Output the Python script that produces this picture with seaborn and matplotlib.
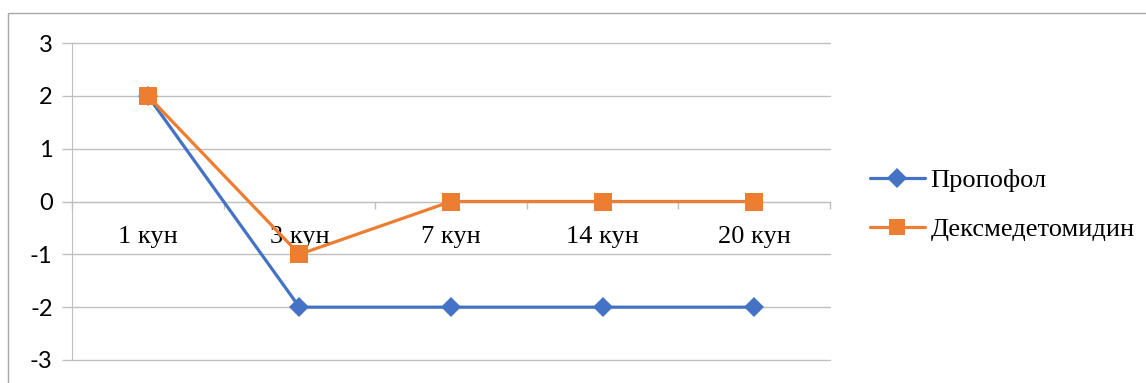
"""
Recreation of the Пропофол / Дексмедетомидин line chart
"""
import pandas as pd
import matplotlib.pyplot as plt
import matplotlib.patches as mpatches
import seaborn as sns

# data
days = ['1 кун', '3 кун', '7 кун', '14 кун', '20 кун']
propofol = [2, -2, -2, -2, -2]
dexmed = [2, -1, 0, 0, 0]
series_names = ['Пропофол', 'Дексмедетомидин']
y_ticks = [-3, -2, -1, 0, 1, 2, 3]

colors = {'Пропофол': '#4472C4', 'Дексмедетомидин': '#ED7D31'}
grid_color = '#BFBFBF'

df = pd.DataFrame({
    'day': days * 2,
    'pos': list(range(len(days))) * 2,
    'value': propofol + dexmed,
    'series': [series_names[0]] * len(days) + [series_names[1]] * len(days),
})

sns.set_style('white')
plt.rcParams['font.family'] = ['Liberation Serif', 'DejaVu Serif']
plt.rcParams['text.color'] = 'black'
plt.rcParams['xtick.labelcolor'] = 'black'
plt.rcParams['ytick.labelcolor'] = 'black'

W, H = 1146, 383
fig = plt.figure(figsize=(W / 100, H / 100), dpi=100)
ax = fig.add_axes([72 / W, 1 - 360 / H, (830 - 72) / W, (360 - 43) / H])

# outer chart border (cut off on right and bottom)
fig.patches.append(mpatches.Rectangle((8 / W, -0.1), 1.2, 1 - 13 / H + 0.1,
                                      transform=fig.transFigure, fill=False,
                                      edgecolor='#A6A6A6', lw=1.0))

sns.lineplot(data=df, x='pos', y='value', hue='series', style='series',
             hue_order=series_names, palette=colors,
             markers={'Пропофол': 'D', 'Дексмедетомидин': 's'},
             dashes=False, lw=2.3, markeredgewidth=0, ax=ax, zorder=3)
marker_sizes = {'D': 10, 's': 12.5}
for line in ax.get_lines():
    if line.get_marker() in marker_sizes:
        line.set_markersize(marker_sizes[line.get_marker()])

ax.set_xlim(-0.5, len(days) - 0.5)
ax.set_ylim(-3, 3)
ax.set_yticks(y_ticks)
ax.set_yticklabels([str(t) for t in y_ticks], family=['Lato', 'DejaVu Sans'],
                   fontsize=17)
ax.tick_params(axis='y', length=7, width=1, color=grid_color, pad=7,
               direction='out', left=True)

# horizontal gridlines
for t in y_ticks:
    ax.axhline(t, color=grid_color, lw=1.0, zorder=1, clip_on=False)

# category axis at y=0
for s in ['top', 'right']:
    ax.spines[s].set_visible(False)
ax.spines['left'].set_color(grid_color)
ax.spines['bottom'].set_position(('data', 0))
ax.spines['bottom'].set_color(grid_color)
ax.set_xticks([i - 0.5 for i in range(len(days) + 1)])
ax.set_xticklabels([])
ax.tick_params(axis='x', which='major', length=5, width=1, color=grid_color,
               direction='out', bottom=True)
ax.set_xticks(range(len(days)), minor=True)
ax.set_xticklabels(days, minor=True, fontsize=19)
ax.tick_params(axis='x', which='minor', length=0, pad=18)

ax.set_xlabel('')
ax.set_ylabel('')

leg = ax.legend(loc='center left', bbox_to_anchor=(846 / W, 1 - 205 / H),
                bbox_transform=fig.transFigure, frameon=False, fontsize=19,
                handlelength=2.1, handletextpad=0.2, labelspacing=0.95)
for h in leg.legend_handles:
    h.set_linewidth(2.3)
    h.set_markeredgewidth(0)
    if h.get_marker() == 'D':
        h.set_markersize(10)
    elif h.get_marker() == 's':
        h.set_markersize(12)

fig.savefig('out.png', dpi=100)
